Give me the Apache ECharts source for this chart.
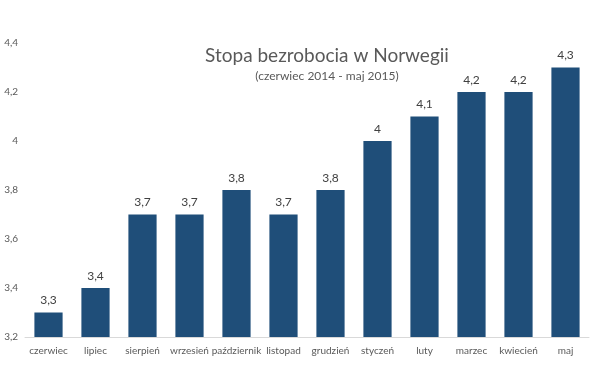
<!DOCTYPE html>
<html><head><meta charset="utf-8">
<script src="https://cdn.jsdelivr.net/npm/echarts@6/dist/echarts.min.js"></script>
<style>html,body{margin:0;padding:0;background:#fff}#c{width:598px;height:365px}</style>
</head><body><div id="c"></div>
<script>
const categories = ['czerwiec','lipiec','sierpień','wrzesień','październik','listopad','grudzień','styczeń','luty','marzec','kwiecień','maj'];
const values = [3.3,3.4,3.7,3.7,3.8,3.7,3.8,4.0,4.1,4.2,4.2,4.3];
const yTicks = [3.2,3.4,3.6,3.8,4.0,4.2,4.4];
const fmt = v => String(Math.round(v*10)/10).replace('.', ',');
const chart = echarts.init(document.getElementById('c'));
chart.setOption({
  animation:false,
  textStyle:{fontFamily:'Lato'},
  title:{text:'Stopa bezrobocia w Norwegii',subtext:'(czerwiec 2014 - maj 2015)',left:322,top:41,textAlign:'center',itemGap:5,
    textStyle:{fontFamily:'Lato',fontSize:19,fontWeight:'normal',color:'#595959'},
    subtextStyle:{fontFamily:'Lato',fontSize:12,color:'#595959'}},
  grid:{left:25,right:9,top:43,bottom:28,containLabel:false},
  xAxis:{type:'category',data:categories,axisTick:{show:false},
    axisLine:{lineStyle:{color:'#d9d9d9'}},
    axisLabel:{color:'#595959',fontSize:10,margin:9,interval:0,hideOverlap:false}},
  yAxis:{type:'value',min:yTicks[0],max:yTicks[yTicks.length-1],interval:0.2,splitLine:{show:false},
    axisLine:{show:false},axisTick:{show:false},
    axisLabel:{color:'#595959',fontSize:10,margin:7,formatter:v=>fmt(v)}},
  series:[{type:'bar',data:values,barWidth:'60%',itemStyle:{color:'#1f4e79'},
    label:{show:true,position:'top',distance:6,color:'#404040',fontSize:12,formatter:p=>fmt(p.value)}}]
});
</script></body></html>
